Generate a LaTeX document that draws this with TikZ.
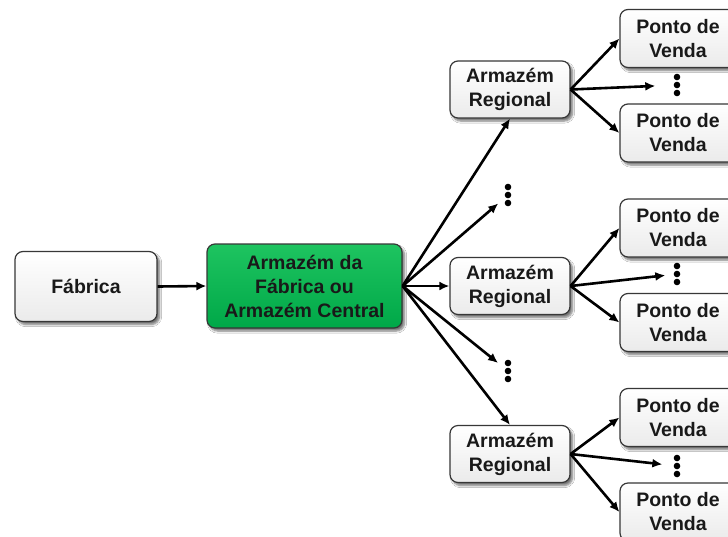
\documentclass[tikz,border=0pt]{standalone}
\usepackage{fontspec}
\setmainfont{Liberation Sans}
\usetikzlibrary{arrows.meta,shadows.blur}

\definecolor{hubtop}{RGB}{30,196,96}
\definecolor{hubbot}{RGB}{0,168,72}
\definecolor{edge}{RGB}{55,55,55}

\begin{document}
\begin{tikzpicture}[x=1pt,y=-1pt,
  box/.style={draw=edge, line width=1.2pt, rounded corners=8pt, align=center,
    font=\fontsize{19.5}{24}\selectfont\bfseries, text=black!90, inner sep=0pt,
    blur shadow={shadow xshift=2.5pt, shadow yshift=-3pt,
      shadow blur steps=6, shadow opacity=55}},
  plain/.style={box, top color=white, bottom color=black!8},
  hub/.style={box, top color=hubtop, bottom color=hubbot},
  regional/.style={plain, minimum width=120pt, minimum height=57pt},
  pdv/.style={plain, minimum width=116pt, minimum height=58pt},
  dotcol/.style={minimum width=7pt, minimum height=24pt, inner sep=0pt,
    path picture={\fill[black] (path picture bounding box.center) circle (3.3pt)
      ++(0pt,8pt) circle (3.3pt) ++(0pt,-16pt) circle (3.3pt);}},
  link/.style={line width=2.6pt, -{Latex[length=10pt,width=9pt]}, black}
]
\clip (0,0) rectangle (728,536);
\fill[white] (0,0) rectangle (728,536);

% factory and central warehouse
\node[plain, minimum width=142pt, minimum height=70pt] (fab) at (86,286.5) {Fábrica};
\node[hub, minimum width=195pt, minimum height=84pt] (central) at (304.5,286)
  {Armazém da\\Fábrica ou\\Armazém Central};

% regional warehouses
\node[regional] (r1) at (510,89.5) {Armazém\\Regional};
\node[regional] (r2) at (510,286) {Armazém\\Regional};
\node[regional] (r3) at (510,454) {Armazém\\Regional};
\node[dotcol] (dA) at (508,195) {};
\node[dotcol] (dB) at (508,371) {};

% points of sale
\node[pdv] (p1a) at (678,38.5) {Ponto de\\Venda};
\node[pdv] (p1b) at (678,133) {Ponto de\\Venda};
\node[pdv] (p2a) at (678,228) {Ponto de\\Venda};
\node[pdv] (p2b) at (678,322.5) {Ponto de\\Venda};
\node[pdv] (p3a) at (678,417.5) {Ponto de\\Venda};
\node[pdv] (p3b) at (678,512) {Ponto de\\Venda};
\node[dotcol] (g1) at (677,85) {};
\node[dotcol] (g2) at (677,274) {};
\node[dotcol] (g3) at (677,466) {};

% flows
\draw[link] (fab.east) -- (central.west);
\draw[link] (central.east) -- (r1.south);
\draw[link, shorten >=8pt] (central.east) -- (dA);
\draw[link] (central.east) -- (r2.west);
\draw[link, shorten >=8pt] (central.east) -- (dB);
\draw[link] (central.east) -- (r3.north);

\draw[link] (r1.east) -- (p1a.west);
\draw[link, shorten >=18pt] (r1.east) -- (g1);
\draw[link] (r1.east) -- (p1b.west);

\draw[link] (r2.east) -- (p2a.west);
\draw[link, shorten >=8pt] (r2.east) -- (g2);
\draw[link] (r2.east) -- (p2b.west);

\draw[link] (r3.east) -- (p3a.west);
\draw[link, shorten >=11pt] (r3.east) -- (g3);
\draw[link] (r3.east) -- (p3b.west);
\end{tikzpicture}
\end{document}
